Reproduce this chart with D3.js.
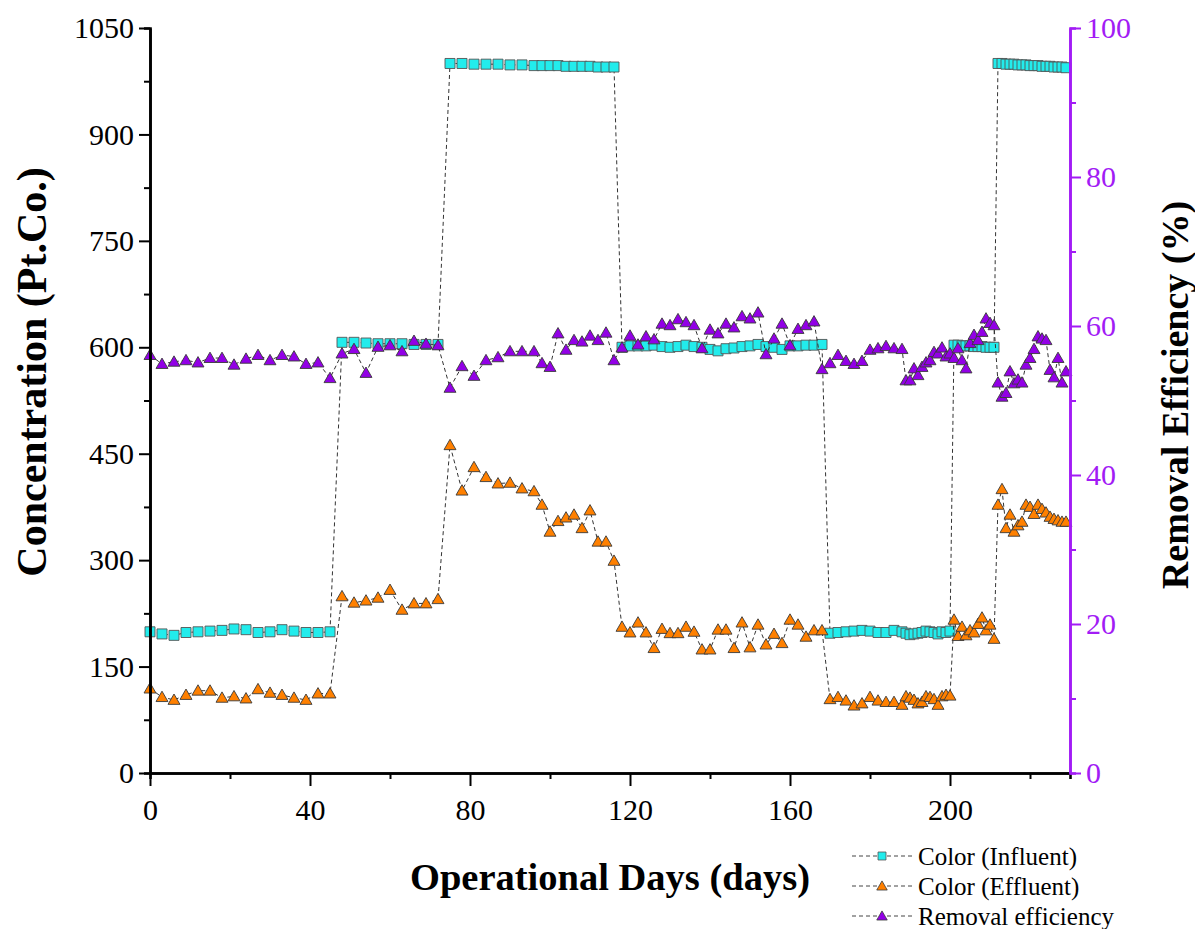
<!DOCTYPE html>
<html>
<head>
<meta charset="utf-8">
<script src="https://cdn.jsdelivr.net/npm/d3@7"></script>
<style>
  html, body { margin: 0; padding: 0; background: #fff; }
  svg { display: block; font-family: "Liberation Serif", "Times New Roman", serif; }
</style>
</head>
<body>
<svg id="chart" width="1195" height="929"></svg>
<script>
// Sampling days (every 3 days, then every 2 days, then daily)
const days = [
  0, 3, 6, 9, 12, 15, 18, 21, 24, 27, 30, 33, 36, 39, 42, 45,
  48, 51, 54, 57, 60, 63, 66, 69, 72,
  75, 78, 81, 84, 87, 90, 93, 96,
  98, 100, 102, 104, 106, 108, 110, 112, 114, 116,
  118, 120, 122, 124, 126, 128, 130, 132, 134, 136, 138, 140, 142, 144, 146, 148, 150,
  152, 154, 156, 158, 160, 162, 164, 166, 168,
  170, 172, 174, 176, 178, 180, 182, 184, 186, 188,
  189, 190, 191, 192, 193, 194, 195, 196, 197, 198, 199, 200,
  201, 202, 203, 204, 205, 206, 207, 208, 209, 210, 211,
  212, 213, 214, 215, 216, 217, 218, 219, 220, 221, 222, 223, 224, 225, 226, 227, 228, 229
];

// Color of influent (Pt.Co.)
const influent = [
  199, 196, 194, 198, 199, 200, 201, 203, 202, 198, 199, 202, 200, 198, 198, 199,
  607, 607, 606, 605, 605, 605, 604, 604, 604,
  1000, 1000, 999, 999, 999, 998, 998, 997,
  997, 997, 997, 996, 996, 996, 996, 995, 995, 995,
  600, 602, 602, 602, 603, 601, 600, 601, 603, 601, 600, 597, 595, 598, 599, 601, 602,
  604, 601, 600, 597, 602, 602, 603, 603, 604,
  197, 198, 199, 200, 201, 200, 198, 198, 201, 199,
  197, 195, 196, 197, 198, 200, 199, 198, 196, 199, 198, 200,
  603, 603, 602, 602, 602, 601, 601, 601, 600, 600, 600,
  1000, 1000, 999, 999, 999, 998, 998, 998, 997, 997, 997, 996, 996, 996, 995, 995, 995, 994
];

// Color of effluent (Pt.Co.)
const effluent = [
  119, 107, 103, 110, 116, 116, 106, 108, 105, 118, 113, 110, 106, 103, 112, 112,
  249, 240, 243, 247, 258, 230, 239, 239, 245,
  462, 398, 431, 417, 408, 409, 401, 397,
  378, 340, 355, 360, 364, 345, 370, 326, 326, 299,
  206, 198, 212, 198, 176, 203, 197, 197, 206, 199, 174, 174, 202, 202, 176, 212, 177,
  209, 181, 196, 183, 216, 209, 192, 201, 201,
  104, 107, 102, 95, 98, 107, 102, 100, 100, 96,
  108, 106, 103, 98, 100, 108, 107, 104, 96, 108, 110, 109,
  216, 193, 206, 194, 201, 198, 210, 219, 201, 209, 189,
  378, 400, 345, 364, 340, 349, 354, 378, 375, 365, 378, 372, 367, 361, 358, 356, 354, 354
];

// Removal efficiency (%)
const removal = [
  56.1, 54.9, 55.2, 55.4, 55.1, 55.7, 55.7, 54.8, 55.6, 56.1, 55.4, 56.1, 55.9, 54.9, 55.1, 53.0,
  56.3, 56.9, 53.7, 57.2, 57.4, 56.6, 58.0, 57.6, 57.4,
  51.7, 54.6, 53.3, 55.4, 55.8, 56.6, 56.6, 56.6,
  55.0, 54.5, 59.0, 56.8, 58.1, 57.9, 58.7, 58.1, 59.1, 55.4,
  57.1, 58.7, 57.5, 58.6, 58.2, 60.3, 60.1, 60.9, 60.5, 60.1, 57.0, 59.5, 59.0, 60.3, 59.8, 61.3, 61.0,
  61.8, 56.2, 58.3, 60.3, 57.4, 59.6, 60.1, 60.6, 54.2,
  55.0, 56.1, 55.3, 54.9, 55.3, 56.8, 57.0, 57.3, 57.0, 56.9,
  52.7, 52.7, 54.3, 53.4, 54.5, 55.1, 55.4, 56.5, 56.3, 57.1, 55.9, 56.3,
  55.7, 57.0, 55.4, 54.3, 57.7, 58.8, 58.1, 59.2, 61.0, 60.4, 60.1,
  52.4, 50.5, 51.0, 53.9, 52.3, 52.8, 52.4, 54.8, 55.7, 56.9, 58.6, 58.3, 58.1, 54.1, 53.1, 55.7, 52.4, 53.9
];

// Axis ticks
const xTicks = [0, 40, 80, 120, 160, 200];
const xMinor = [20, 60, 100, 140, 180, 220];
const yLeftTicks = [0, 150, 300, 450, 600, 750, 900, 1050];
const yLeftMinor = [75, 225, 375, 525, 675, 825, 975];
const yRightTicks = [0, 20, 40, 60, 80, 100];
const yRightMinor = [10, 30, 50, 70, 90];

const seriesNames = ["Color (Influent)", "Color (Effluent)", "Removal efficiency"];

const purple = "#a21cf5";

const svg = d3.select("#chart");
const x = d3.scaleLinear().domain([0, 230]).range([150, 1070]);
const yL = d3.scaleLinear().domain([0, 1050]).range([773, 28]);
const yR = d3.scaleLinear().domain([0, 100]).range([773, 28]);

const series = [
  { name: seriesNames[0], values: influent, scale: yL, shape: "square", fill: "#22ecec", stroke: "#555" },
  { name: seriesNames[1], values: effluent, scale: yL, shape: "triangle", fill: "#ff8000", stroke: "#3a3a3a" },
  { name: seriesNames[2], values: removal, scale: yR, shape: "triangle", fill: "#9200e6", stroke: "#3a3a3a" }
];

const sqSym = d3.symbol().type(d3.symbolSquare).size(100);
const triSym = d3.symbol().type(d3.symbolTriangle).size(62);

function markerPath(shape) { return shape === "square" ? sqSym() : triSym(); }

// Series: dashed connector then markers
series.forEach(s => {
  const pts = days.map((d, i) => [d, s.values[i]]);
  const line = d3.line().x(p => x(p[0])).y(p => s.scale(p[1]));
  svg.append("path")
    .attr("d", line(pts))
    .attr("fill", "none")
    .attr("stroke", "#333")
    .attr("stroke-width", 1)
    .attr("stroke-dasharray", "4,3");
  svg.append("g").selectAll("path")
    .data(pts)
    .join("path")
    .attr("d", markerPath(s.shape))
    .attr("transform", p => `translate(${x(p[0])},${s.scale(p[1]) + (s.shape === "triangle" ? 1 : 0)})`)
    .attr("fill", s.fill)
    .attr("stroke", s.stroke)
    .attr("stroke-width", 0.9);
});

// Axes
function styleAxis(g, color) {
  g.select(".domain").attr("stroke", color).attr("stroke-width", 2.6);
  g.selectAll(".tick line").attr("stroke", color).attr("stroke-width", 2);
  g.selectAll(".tick text").attr("fill", color).attr("font-size", 30)
    .attr("font-family", "Liberation Serif, Times New Roman, serif");
}

// bottom
const gxMinor = svg.append("g").attr("transform", "translate(0,773)")
  .call(d3.axisBottom(x).tickValues(xMinor).tickSize(6).tickFormat(""));
styleAxis(gxMinor, "#000");
const gx = svg.append("g").attr("transform", "translate(0,773)")
  .call(d3.axisBottom(x).tickValues(xTicks).tickSize(13).tickSizeOuter(0).tickPadding(13).tickFormat(d3.format("d")));
styleAxis(gx, "#000");

// left
const gyMinor = svg.append("g").attr("transform", "translate(150,0)")
  .call(d3.axisLeft(yL).tickValues(yLeftMinor).tickSize(6).tickFormat(""));
styleAxis(gyMinor, "#000");
const gy = svg.append("g").attr("transform", "translate(150,0)")
  .call(d3.axisLeft(yL).tickValues(yLeftTicks).tickSize(11).tickSizeOuter(0).tickPadding(5).tickFormat(d3.format("d")));
styleAxis(gy, "#000");

// right
const grMinor = svg.append("g").attr("transform", "translate(1070,0)")
  .call(d3.axisRight(yR).tickValues(yRightMinor).tickSize(6).tickFormat(""));
styleAxis(grMinor, purple);
const gr = svg.append("g").attr("transform", "translate(1070,0)")
  .call(d3.axisRight(yR).tickValues(yRightTicks).tickSize(11).tickSizeOuter(0).tickPadding(5).tickFormat(d3.format("d")));
styleAxis(gr, purple);

// Axis titles
svg.append("text")
  .attr("x", 610).attr("y", 890)
  .attr("text-anchor", "middle")
  .attr("font-size", 38.5).attr("font-weight", "bold")
  .text("Operational Days (days)");

svg.append("text")
  .attr("transform", "translate(46,372) rotate(-90)")
  .attr("text-anchor", "middle")
  .attr("font-size", 42).attr("font-weight", "bold")
  .text("Concentration (Pt.Co.)");

svg.append("text")
  .attr("transform", "translate(1188,395) rotate(-90)")
  .attr("text-anchor", "middle")
  .attr("font-size", 38).attr("font-weight", "bold")
  .text("Removal Efficiency (%)");

// Legend
const legend = svg.append("g");
const rowY = [856, 886, 916];
series.forEach((s, i) => {
  const g = legend.append("g").attr("transform", `translate(0,${rowY[i]})`);
  g.append("line")
    .attr("x1", 852).attr("x2", 912).attr("y1", 0).attr("y2", 0)
    .attr("stroke", "#444").attr("stroke-width", 1).attr("stroke-dasharray", "4,3");
  g.append("path")
    .attr("d", s.shape === "square" ? d3.symbol().type(d3.symbolSquare).size(64)() : d3.symbol().type(d3.symbolTriangle).size(48)())
    .attr("transform", `translate(882,${s.shape === "triangle" ? 1 : 0})`)
    .attr("fill", s.fill).attr("stroke", s.stroke).attr("stroke-width", 0.8);
  g.append("text")
    .attr("x", 918).attr("y", 9)
    .attr("font-size", 25)
    .text(s.name);
});
</script>
</body>
</html>
